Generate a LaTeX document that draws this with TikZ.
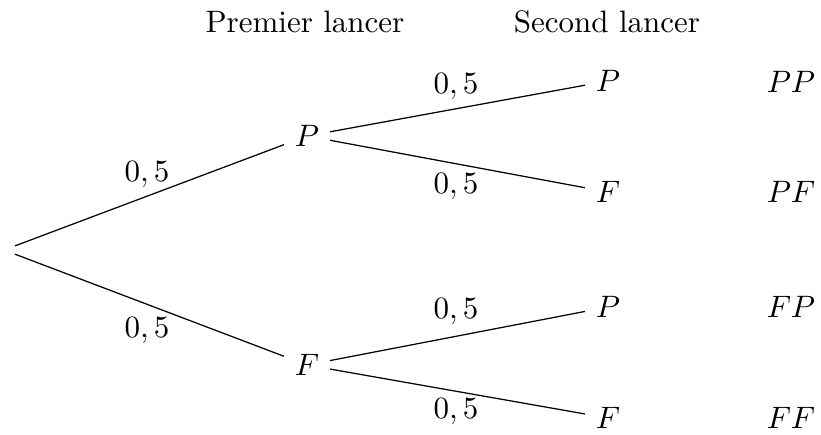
\documentclass[tikz,border=0pt]{standalone}
\begin{document}
\begin{tikzpicture}[x=0.3226pt,y=-0.3226pt,
  lab/.style={inner sep=0pt, anchor=base},
  evt/.style={},
  edge/.style={line width=0.4pt}]
\useasboundingbox (0,0) rectangle (821,434);
% headers
\node[lab] (h1) at (305,32) {Premier lancer};
\node[lab] (h2) at (607,32) {Second lancer};
% tree nodes
\node[evt] (r) at (4,250) {};
\node[evt] (P1) at (307,136) {$P$};
\node[evt] (F1) at (307,365) {$F$};
\node[evt] (PP) at (608,81) {$P$};
\node[evt] (PF) at (608,192) {$F$};
\node[evt] (FP) at (608,307) {$P$};
\node[evt] (FF) at (608,418) {$F$};
% outcomes
\node[evt] (oPP) at (791,82) {$PP$};
\node[evt] (oPF) at (791,192) {$PF$};
\node[evt] (oFP) at (791,307) {$FP$};
\node[evt] (oFF) at (791,418) {$FF$};
% edges
\draw[edge] (r) -- (P1);
\draw[edge] (r) -- (F1);
\draw[edge] (P1) -- (PP);
\draw[edge] (P1) -- (PF);
\draw[edge] (F1) -- (FP);
\draw[edge] (F1) -- (FF);
% probabilities
\node[lab] (l1) at (147,181) {$0,5$};
\node[lab] (l2) at (147,337) {$0,5$};
\node[lab] (l3) at (456,93) {$0,5$};
\node[lab] (l4) at (456,193) {$0,5$};
\node[lab] (l5) at (456,318) {$0,5$};
\node[lab] (l6) at (456,418) {$0,5$};
\end{tikzpicture}
\end{document}
